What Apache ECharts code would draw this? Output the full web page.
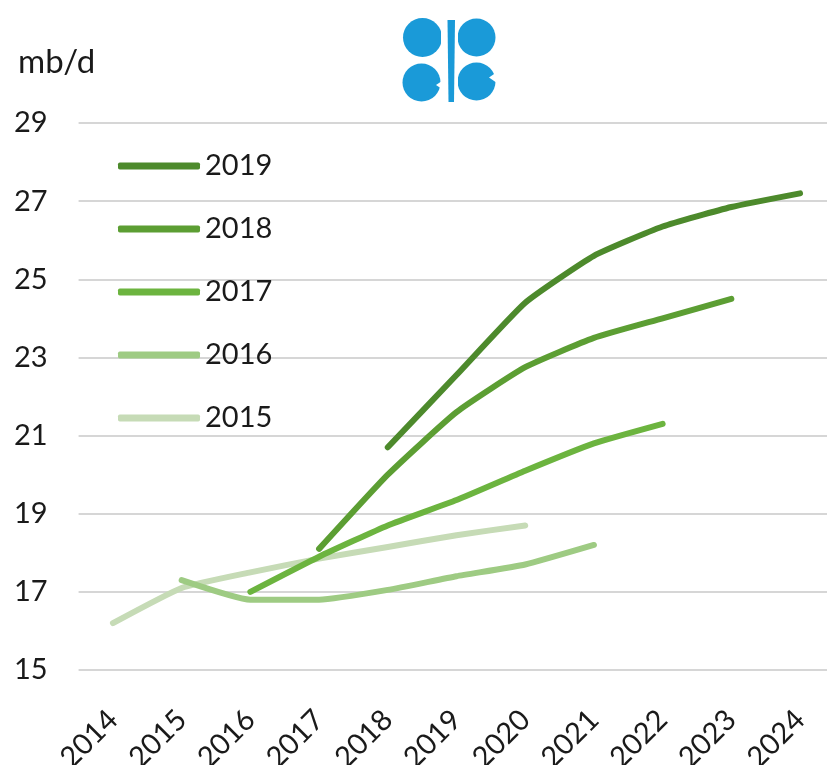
<!DOCTYPE html>
<html>
<head>
<meta charset="utf-8">
<script src="https://cdn.jsdelivr.net/npm/echarts@6/dist/echarts.min.js"></script>
<style>html,body{margin:0;padding:0;background:#fff}#c{width:827px;height:765px}</style>
</head>
<body>
<div id="c"></div>
<script>
const years = ['2014','2015','2016','2017','2018','2019','2020','2021','2022','2023','2024'];
const yTicks = [15, 17, 19, 21, 23, 25, 27, 29];
const unitLabel = 'mb/d';
const seriesNames = ['2015','2016','2017','2018','2019'];
const s2015 = [16.2, 17.1, 17.5, 17.85, 18.15, 18.45, 18.7, null, null, null, null];
const s2016 = [null, 17.3, 16.8, 16.8, 17.05, 17.4, 17.7, 18.2, null, null, null];
const s2017 = [null, null, 17.0, 17.9, 18.7, 19.35, 20.1, 20.8, 21.3, null, null];
const s2018 = [null, null, null, 18.1, 20.0, 21.6, 22.75, 23.5, 24.0, 24.5, null];
const s2019 = [null, null, null, null, 20.7, 22.55, 24.4, 25.6, 26.35, 26.85, 27.2];
const colors = {'2015':'#c6dbb6','2016':'#9ecb83','2017':'#6cb43f','2018':'#5c9e33','2019':'#4d8a2c'};
const dataMap = {'2015':s2015,'2016':s2016,'2017':s2017,'2018':s2018,'2019':s2019};

const FONT = 'Lato, "Open Sans", sans-serif';
const chart = echarts.init(document.getElementById('c'), null, {renderer:'canvas'});
const blue = '#1a9ad8';
chart.setOption({
  animation: false,
  backgroundColor: '#fff',
  textStyle: {fontFamily: FONT},
  title: {text: unitLabel, left: 18, top: 46, padding: 0, textStyle: {fontSize: 33, fontWeight: 'normal', color: '#1a1a1a', fontFamily: FONT}},
  legend: {
    data: seriesNames.slice().reverse(),
    orient: 'vertical', left: 118, top: 151, padding: 0,
    icon: 'roundRect', itemWidth: 82, itemHeight: 7, itemGap: 33,
    textStyle: {fontSize: 29, color: '#1a1a1a', lineHeight: 30, fontFamily: FONT, padding: [0,0,0,0]}
  },
  grid: {left: 78.6, right: -7.4, top: 123, bottom: 95, containLabel: false, outerBoundsMode: 'none'},
  xAxis: {
    type: 'category', data: years, boundaryGap: true,
    axisLine: {show: false}, axisTick: {show: false},
    axisLabel: {rotate: 45, fontSize: 29, color: '#1a1a1a', margin: 45, fontFamily: FONT}
  },
  yAxis: {
    type: 'value', min: yTicks[0], max: yTicks[yTicks.length-1], interval: 2,
    axisLine: {show: false}, axisTick: {show: false},
    axisLabel: {fontSize: 29, color: '#1a1a1a', margin: 31, fontFamily: FONT},
    splitLine: {lineStyle: {color: '#d6d6d6', width: 2}}
  },
  series: seriesNames.map(n => ({
    name: n, type: 'line', data: dataMap[n], symbol: 'none', smooth: 0.15,
    color: colors[n],
    lineStyle: {width: 6, color: colors[n], cap: 'round', join: 'round'},
    connectNulls: false
  })),
  graphic: [
    {type:'circle', shape:{cx:422.5, cy:37.5, r:19.5}, style:{fill:blue}},
    {type:'circle', shape:{cx:476.5, cy:37.5, r:19}, style:{fill:blue}},
    {type:'circle', shape:{cx:421.5, cy:82.5, r:19}, style:{fill:blue}},
    {type:'circle', shape:{cx:476.5, cy:81.5, r:19}, style:{fill:blue}},
    {type:'rect', shape:{x:455, y:16, width:3, height:90}, style:{fill:'#fff'}},
    {type:'rect', shape:{x:441, y:16, width:6, height:90}, style:{fill:'#fff'}},
    {type:'polygon', shape:{points:[[447.5,20],[455,20],[454,102],[448.5,102]]}, style:{fill:blue}},
    {type:'polygon', shape:{points:[[497,72],[489,77.5],[497,83]]}, style:{fill:'#fff'}},
    {type:'polygon', shape:{points:[[442,64],[436,68],[442,72]]}, style:{fill:'#fff'}},
    {type:'polygon', shape:{points:[[442,81],[436,85],[442,89]]}, style:{fill:'#fff'}}
  ]
});
</script>
</body>
</html>
